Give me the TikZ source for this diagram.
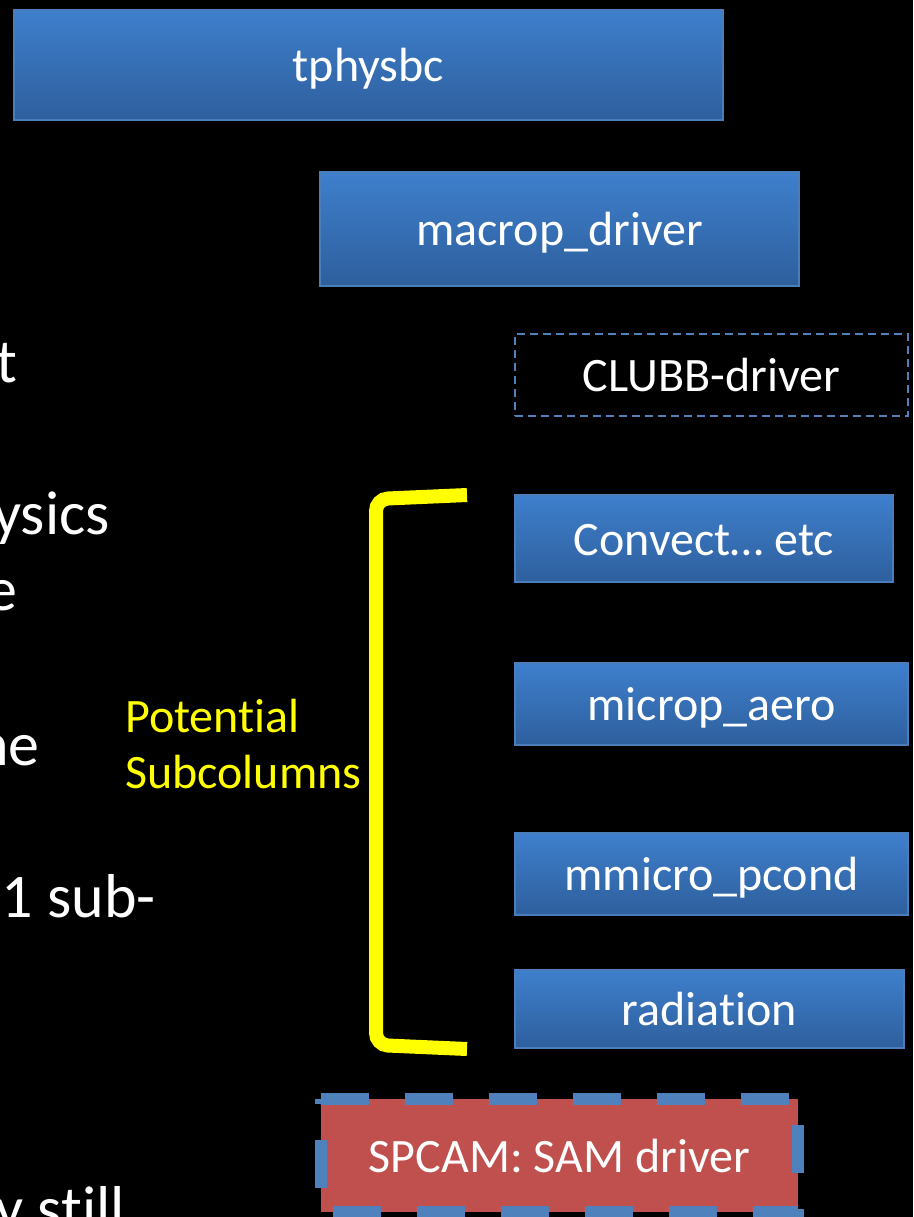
\documentclass[tikz,border=0pt]{standalone}
\usepackage{fontspec}
\setmainfont{Carlito}[Ligatures=NoCommon]
\definecolor{boxtop}{RGB}{62,127,204}
\definecolor{boxbot}{RGB}{46,95,157}
\definecolor{boxline}{RGB}{74,126,187}
\definecolor{dashblue}{RGB}{79,129,189}
\definecolor{samred}{RGB}{192,80,77}
\definecolor{ylw}{RGB}{255,255,0}
\begin{document}
\begin{tikzpicture}[x=1pt,y=-1pt,
  boxfont/.style={font=\fontsize{48}{58}\selectfont, text height=33pt, text depth=0pt},
  bluebox/.style={rectangle, inner sep=0pt, draw=boxline, line width=1.5pt,
    top color=boxtop, bottom color=boxbot, text=white, boxfont},
  dashbox/.style={rectangle, inner sep=0pt, draw=dashblue, line width=1.5pt,
    dash pattern=on 8pt off 5pt, text=white, boxfont},
  redbox/.style={rectangle, inner sep=0pt, fill=samred, text=white, boxfont},
  lefttext/.style={anchor=base east, text=white, inner sep=0pt,
    font=\fontsize{62}{75}\selectfont},
  ylabel/.style={text=ylw, inner sep=0pt, align=left,
    font=\fontsize{48}{56}\selectfont}]
\fill[black] (0,0) rectangle (913,1217);
\useasboundingbox (0,0) rectangle (913,1217);
\clip (0,0) rectangle (913,1217);

\node[bluebox, minimum width=709pt, minimum height=110pt] (tph) at (368.5,65) {tphysbc};
\node[bluebox, minimum width=479pt, minimum height=114pt] (mac) at (559.5,229) {macrop\_driver};
\node[dashbox, minimum width=393pt, minimum height=82pt] (clubb) at (711.5,375) {CLUBB-driver};
\node[bluebox, minimum width=378pt, minimum height=87pt] (conv) at (704,538.5) {Convect… etc};
\node[bluebox, minimum width=393pt, minimum height=82pt] (aero) at (711.5,704) {microp\_aero};
\node[bluebox, minimum width=393pt, minimum height=82pt] (pcond) at (711.5,874) {mmicro\_pcond};
\node[bluebox, minimum width=389pt, minimum height=78pt] (rad) at (709.5,1009) {radiation};
\node[redbox, minimum width=477pt, minimum height=113pt] (sam) at (559.5,1155.5) {SPCAM: SAM driver};
\draw[dashblue, line width=12pt, dash pattern=on 48pt off 36pt]
  (sam.north west) -- (sam.north east) -- (sam.south east) -- (sam.south west) -- cycle;

\draw[ylw, line width=14pt, rounded corners=12pt]
  (467,495) -- (376,499) -- (376,1045) -- (467,1049);
\node[ylabel, anchor=north west] (pot) at (125,699) {Potential\\Subcolumns};

\node[lefttext] (l1) at (17,382) {t};
\node[lefttext] (l2) at (110,534) {ysics};
\node[lefttext] (l3) at (18,610) {e};
\node[lefttext] (l4) at (40,765) {ne};
\node[lefttext] (l5) at (156,917) {1 sub-};
\node[lefttext] (l6) at (125,1229) {y still};
\end{tikzpicture}
\end{document}
